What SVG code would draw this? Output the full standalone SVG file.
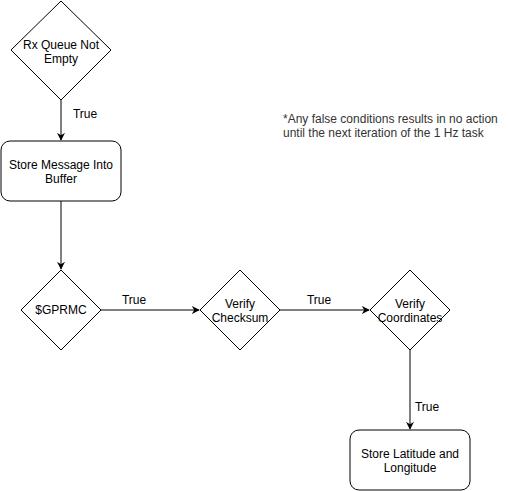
<svg xmlns="http://www.w3.org/2000/svg" width="509" height="491" viewBox="0 0 509 491">
<style>
.s{fill:#fff;stroke:#000;stroke-width:1}
.t{font-family:"Liberation Sans",Arial,sans-serif;font-size:12px;fill:#000;text-anchor:middle}
.n{font-family:"Liberation Sans",Arial,sans-serif;font-size:12px;fill:#333}
.c{fill:none;stroke:#000;stroke-width:1}
</style>
<defs>
<marker id="a" viewBox="0 0 10 10" refX="9" refY="5" markerWidth="8" markerHeight="8" markerUnits="userSpaceOnUse" orient="auto">
<path d="M0,0 L10,5 L0,10 L3,5 Z" fill="#000"/>
</marker>
</defs>
<rect width="509" height="491" fill="#fff"/>
<g id="connectors">
<path class="c" d="M61,100 L61,140" marker-end="url(#a)"/>
<path class="c" d="M61,201 L61,269" marker-end="url(#a)"/>
<path class="c" d="M101,310 L199,310" marker-end="url(#a)"/>
<path class="c" d="M280,310 L369,310" marker-end="url(#a)"/>
<path class="c" d="M410,350 L410,429" marker-end="url(#a)"/>
<text class="t" x="85" y="118">True</text>
<text class="t" x="134" y="304">True</text>
<text class="t" x="319" y="304">True</text>
<text class="t" x="427" y="411">True</text>
</g>
<g id="n1">
<path class="s" d="M61,1 L111,50 L61,100 L11,50 Z"/>
<text class="t" x="61" y="49">Rx Queue Not</text>
<text class="t" x="61" y="63">Empty</text>
</g>
<g id="n2">
<rect class="s" x="1" y="141" width="120" height="60" rx="9"/>
<text class="t" x="61" y="169">Store Message Into</text>
<text class="t" x="61" y="183">Buffer</text>
</g>
<g id="n3">
<path class="s" d="M61,270 L101,310 L61,350 L21,310 Z"/>
<text class="t" x="61" y="314">$GPRMC</text>
</g>
<g id="n4">
<path class="s" d="M240,270 L280,310 L240,350 L200,310 Z"/>
<text class="t" x="240" y="308">Verify</text>
<text class="t" x="240" y="322">Checksum</text>
</g>
<g id="n5">
<path class="s" d="M410,270 L450,310 L410,350 L370,310 Z"/>
<text class="t" x="410" y="308">Verify</text>
<text class="t" x="410" y="322">Coordinates</text>
</g>
<g id="n6">
<rect class="s" x="350" y="430" width="120" height="60" rx="9"/>
<text class="t" x="410" y="458">Store Latitude and</text>
<text class="t" x="410" y="472">Longitude</text>
</g>
<g id="note">
<text class="n" x="283" y="123">*Any false conditions results in no action</text>
<text class="n" x="283" y="137">until the next iteration of the 1 Hz task</text>
</g>
</svg>
